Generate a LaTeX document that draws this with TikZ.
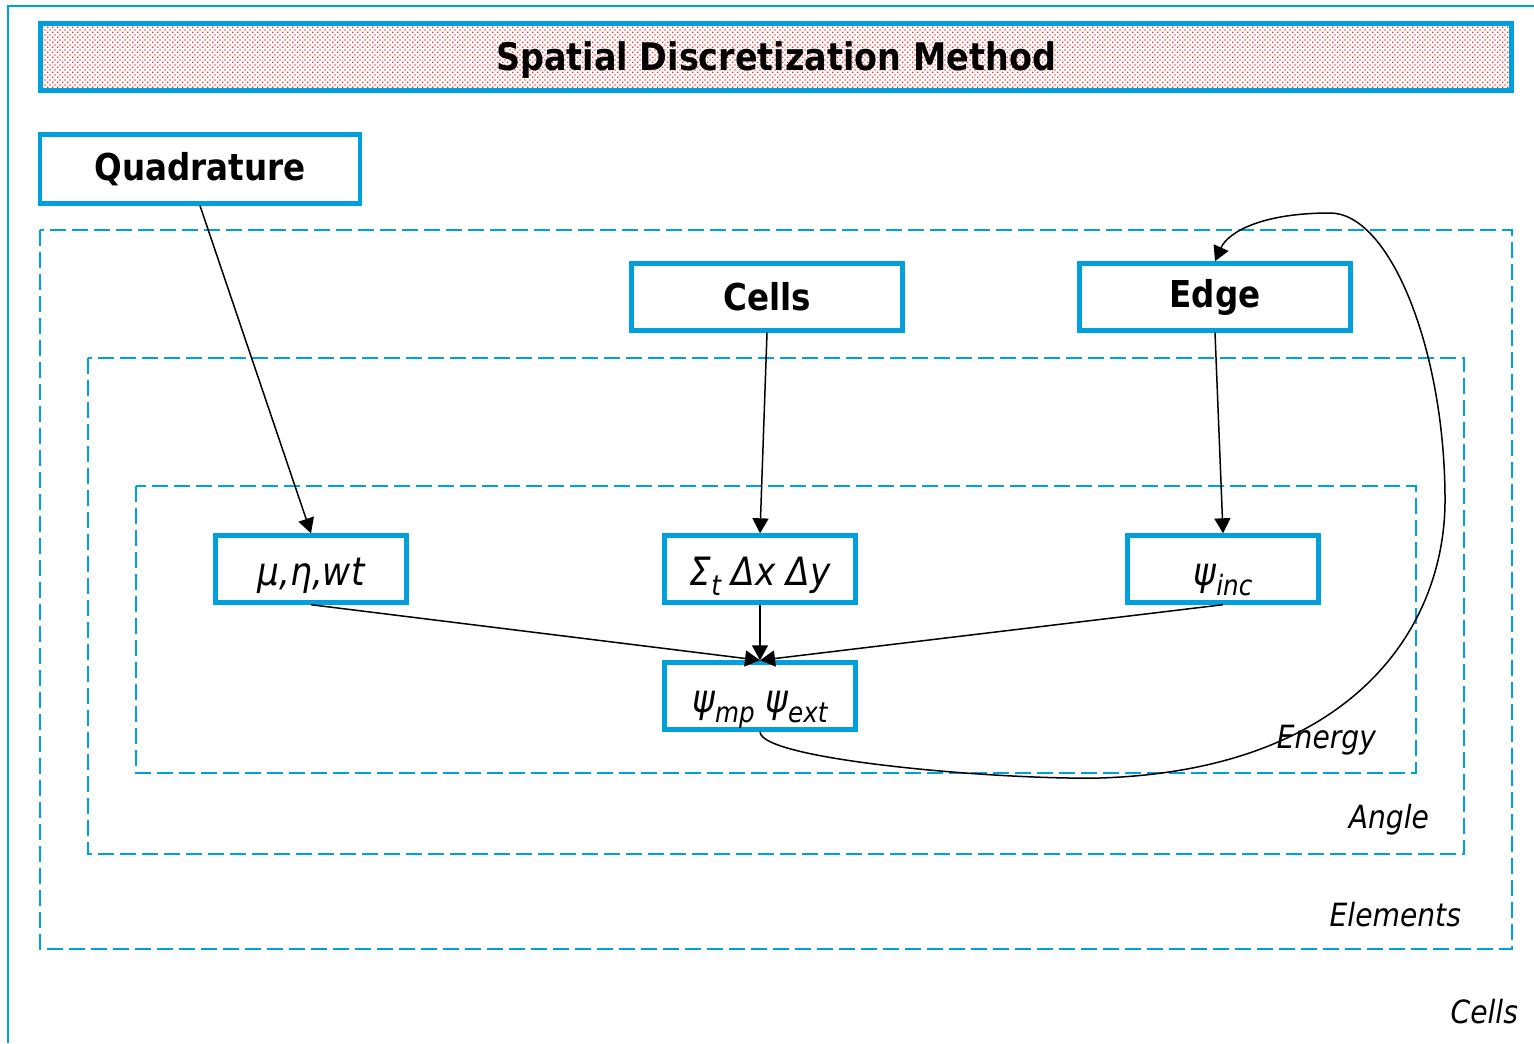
\documentclass[tikz,border=0pt]{standalone}
\usepackage{fontspec}
\setmainfont{DejaVu Sans}[FakeStretch=0.88]
\usetikzlibrary{arrows.meta,patterns}
\definecolor{boxblue}{RGB}{0,160,222}
\newcommand\sub[1]{\raisebox{-0.5ex}{\fontsize{14}{14}\selectfont #1}}
\pgfdeclarepatternformonly{reddots}{\pgfpoint{0pt}{0pt}}{\pgfpoint{2.7pt}{2.7pt}}{\pgfpoint{2.7pt}{2.7pt}}{%
  \pgfpathrectangle{\pgfpoint{0pt}{0pt}}{\pgfpoint{0.7pt}{0.7pt}}%
  \pgfpathrectangle{\pgfpoint{1.35pt}{1.35pt}}{\pgfpoint{0.7pt}{0.7pt}}%
  \pgfusepath{fill}}

\begin{document}
\begin{tikzpicture}[x=0.5pt,y=-0.5pt,
  box/.style={draw=boxblue,line width=2.2pt,fill=white,minimum width=95.5pt,minimum height=33.5pt,inner sep=0pt},
  bigbox/.style={box,font=\fontsize{18.5}{20}\selectfont\bfseries,minimum width=135.5pt},
  mathbox/.style={box,font=\fontsize{19.5}{20}\selectfont\itshape,text depth=1pt,text height=17pt},
  level/.style={draw=boxblue,line width=1.1pt,dash pattern=on 8pt off 3pt},
  tag/.style={font=\fontsize{16}{18}\selectfont\itshape,anchor=east},
  arr/.style={-{Triangle[length=7.5pt,width=8pt]},line width=0.75pt}]
  \useasboundingbox (0,0) rectangle (1534,1043);
  \draw[boxblue,line width=1pt] (8,1043) -- (8,6) -- (1534,6);
  \node[box,line width=2.5pt,minimum width=735.5pt,fill=none,pattern=reddots,pattern color=red!85] (title) at (776,57) {};
  \node[font=\fontsize{19}{21}\selectfont\bfseries,yshift=-1.5pt] at (title) {Spatial Discretization Method};
  \node[bigbox,minimum width=160pt,minimum height=34.5pt] (quad) at (200,169) {Quadrature};

  % nested loops
  \draw[level] (40,230) rectangle (1512,949);
  \draw[level] (88,358) rectangle (1464,854);
  \draw[level] (136,486) rectangle (1416,773);
  \node[tag] at (1383,740) {Energy};
  \node[tag] at (1436,820) {Angle};
  \node[tag] at (1468,915) {Elements};
  \node[tag] at (1525,1012) {Cells};

  \node[bigbox] (cells) at (767,297) {Cells};
  \node[bigbox] (edge) at (1215,297) {Edge};
  \node[mathbox] (mu) at (311,569) {μ,η,wt};
  \node[mathbox] (xs) at (760,569) {Σ\sub{t} Δx Δy};
  \node[mathbox] (inc) at (1223,569) {ψ\sub{inc}};
  \node[mathbox] (psi) at (760,696) {ψ\sub{mp} ψ\sub{ext}};

  \draw[arr] (quad.south) -- (mu.north);
  \draw[arr] (cells.south) -- (xs.north);
  \draw[arr] (edge.south) -- (inc.north);
  \draw[arr] (mu.south) -- (psi.north);
  \draw[arr] (xs.south) -- (psi.north);
  \draw[arr] (inc.south) -- (psi.north);
  \draw[arr] (psi.south) .. controls (760,760) and (1000,780) .. (1100,778)
    .. controls (1350,770) and (1445,630) .. (1445,500)
    .. controls (1445,350) and (1390,213) .. (1330,213)
    .. controls (1262,213) and (1228,232) .. (edge.north);
\end{tikzpicture}
\end{document}
